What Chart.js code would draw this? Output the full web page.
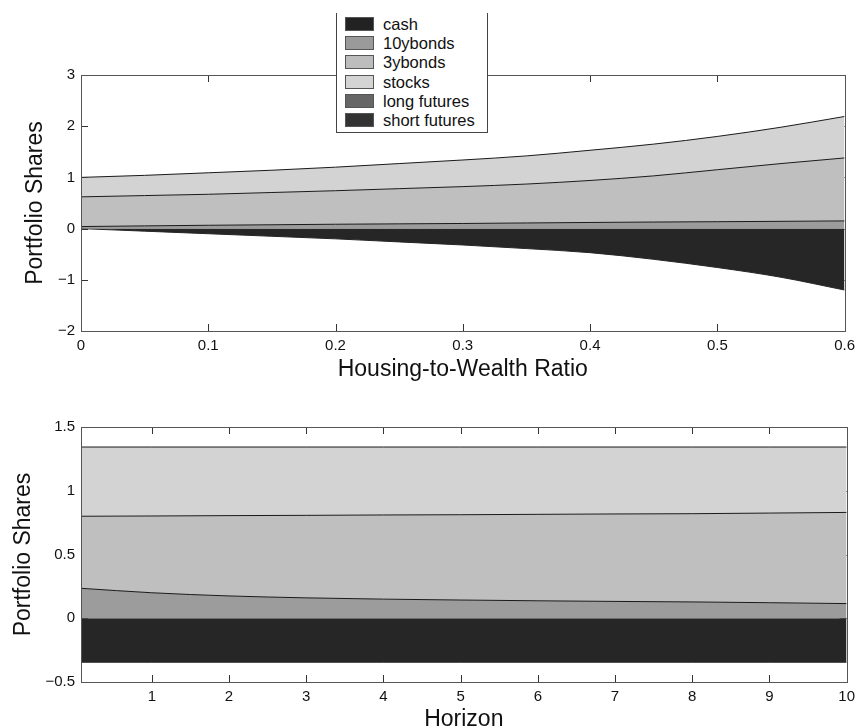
<!DOCTYPE html>
<html>
<head>
<meta charset="utf-8">
<script src="https://cdn.jsdelivr.net/npm/chart.js@4.4.1/dist/chart.umd.min.js"></script>
<style>
  html, body { margin:0; padding:0; background:#fff; }
  body { width:861px; height:728px; position:relative; overflow:hidden; font-family:"Liberation Sans", Arial, sans-serif; }
  #w1 { position:absolute; left:0; top:0; width:861px; height:385px; }
  #w2 { position:absolute; left:0; top:385px; width:861px; height:360px; }
  #legend { position:absolute; left:336px; top:13px; width:152px; height:120px; background:#fff;
            border:1px solid #444; border-top:none; box-sizing:border-box; }
  .row { position:absolute; left:0; height:19px; width:150px; }
  .sw { position:absolute; left:8px; top:2px; width:29px; height:14px; box-sizing:border-box; border:1px solid #555; }
  .lb { position:absolute; left:46px; top:0; font-size:16.5px; line-height:19px; color:#111; white-space:nowrap; }
</style>
</head>
<body>
<div id="w1"><canvas id="c1" width="861" height="385"></canvas></div>
<div id="w2"><canvas id="c2" width="861" height="360"></canvas></div>
<div id="legend"></div>
<script>
// ---------- data ----------
const legendLabels = ["cash", "10ybonds", "3ybonds", "stocks", "long futures", "short futures"];
const legendColors = ["#222222", "#9a9a9a", "#bdbdbd", "#d4d4d4", "#666666", "#333333"];

// Top panel: x = housing-to-wealth ratio
const housingRatio = [0, 0.05, 0.1, 0.15, 0.2, 0.25, 0.3, 0.35, 0.4, 0.45, 0.5, 0.55, 0.6];
const topCash      = [0, -0.05, -0.10, -0.15, -0.20, -0.26, -0.32, -0.39, -0.47, -0.60, -0.76, -0.95, -1.20];
const top10y       = [0.04, 0.053, 0.065, 0.075, 0.085, 0.093, 0.10, 0.11, 0.12, 0.128, 0.135, 0.142, 0.15];
const top3y        = [0.58, 0.592, 0.605, 0.63, 0.655, 0.687, 0.72, 0.76, 0.82, 0.902, 1.015, 1.128, 1.23];
const topStocks    = [0.38, 0.395, 0.42, 0.435, 0.46, 0.49, 0.52, 0.55, 0.59, 0.62, 0.65, 0.71, 0.81];
const topXTicks    = [0, 0.1, 0.2, 0.3, 0.4, 0.5, 0.6];
const topYTicks    = [-2, -1, 0, 1, 2, 3];

// Bottom panel: x = horizon (years)
const horizon      = [0.083, 1, 2, 3, 4, 5, 6, 7, 8, 9, 10];
const botCash      = [-0.345, -0.345, -0.345, -0.345, -0.345, -0.345, -0.345, -0.345, -0.345, -0.345, -0.345];
const bot10y       = [0.235, 0.20, 0.175, 0.16, 0.15, 0.143, 0.137, 0.132, 0.128, 0.122, 0.115];
const bot3y        = [0.565, 0.602, 0.63, 0.647, 0.66, 0.669, 0.678, 0.686, 0.692, 0.703, 0.715];
const botStocks    = [0.543, 0.541, 0.538, 0.536, 0.533, 0.531, 0.528, 0.525, 0.523, 0.518, 0.513];
const botXTicks    = [1, 2, 3, 4, 5, 6, 7, 8, 9, 10];
const botYTicks    = [-0.5, 0, 0.5, 1, 1.5];

// ---------- legend ----------
const lg = document.getElementById('legend');
legendLabels.forEach((t, i) => {
  const r = document.createElement('div');
  r.className = 'row';
  r.style.top = (2 + i * 19.2) + 'px';
  r.innerHTML = '<div class="sw" style="background:' + legendColors[i] + '"></div><div class="lb">' + t + '</div>';
  lg.appendChild(r);
});

// ---------- helpers ----------
const FILL = { cash: "#262626", b10: "#9c9c9c", b3: "#bfbfbf", st: "#d3d3d3" };
const FONT = "'Liberation Sans', Arial, sans-serif";

function buildDatasets(xs, cash, b10, b3, st) {
  const c10 = b10.map(v => v);
  const c3 = b10.map((v, i) => v + b3[i]);
  const cs = c3.map((v, i) => v + st[i]);
  const pts = arr => xs.map((x, i) => ({ x: x, y: arr[i] }));
  const base = { pointRadius: 0, borderWidth: 1, borderColor: '#1a1a1a', cubicInterpolationMode: 'monotone' };
  return [
    Object.assign({}, base, { label: '10ybonds', data: pts(c10), backgroundColor: FILL.b10, fill: 'origin' }),
    Object.assign({}, base, { label: '3ybonds', data: pts(c3), backgroundColor: FILL.b3, fill: 0 }),
    Object.assign({}, base, { label: 'stocks', data: pts(cs), backgroundColor: FILL.st, fill: 1 }),
    Object.assign({}, base, { label: 'cash', data: pts(cash), backgroundColor: FILL.cash, borderColor: '#262626', fill: 'origin' })
  ];
}

const framePlugin = {
  id: 'frame',
  beforeDraw(chart) {
    const { ctx, chartArea: a, scales: { x, y } } = chart;
    ctx.save();
    ctx.strokeStyle = '#333';
    ctx.lineWidth = 1;
    ctx.beginPath();
    x.ticks.forEach(t => {
      const px = Math.round(x.getPixelForValue(t.value)) + 0.5;
      ctx.moveTo(px, a.bottom); ctx.lineTo(px, a.bottom - 7);
      ctx.moveTo(px, a.top); ctx.lineTo(px, a.top + 7);
    });
    y.ticks.forEach(t => {
      const py = Math.round(y.getPixelForValue(t.value)) + 0.5;
      ctx.moveTo(a.left, py); ctx.lineTo(a.left + 7, py);
      ctx.moveTo(a.right, py); ctx.lineTo(a.right - 7, py);
    });
    ctx.stroke();
    ctx.restore();
  },
  afterDatasetsDraw(chart) {
    const { ctx, chartArea: a } = chart;
    ctx.save();
    ctx.strokeStyle = '#555';
    ctx.lineWidth = 1;
    ctx.strokeRect(Math.round(a.left) + 0.5, Math.round(a.top) + 0.5,
                   Math.round(a.right - a.left), Math.round(a.bottom - a.top));
    ctx.restore();
  }
};

function fmt(v) {
  let s = String(Math.round(v * 10) / 10);
  return s.replace('-', '\u2212');
}

function makeChart(id, cfg) {
  return new Chart(document.getElementById(id), {
    type: 'line',
    data: { datasets: cfg.datasets },
    plugins: [framePlugin],
    options: {
      responsive: false,
      animation: false,
      devicePixelRatio: 1,
      layout: { padding: { left: 0, right: 13, top: cfg.padTop, bottom: 0 } },
      plugins: { legend: { display: false }, tooltip: { enabled: false } },
      scales: {
        x: {
          type: 'linear', min: cfg.xmin, max: cfg.xmax,
          grid: { display: false, drawTicks: false },
          border: { display: false },
          afterBuildTicks: s => { s.ticks = cfg.xticks.map(v => ({ value: v })); },
          afterFit: s => { s.height = cfg.xHeight; },
          ticks: { padding: 6, color: '#111', font: { family: FONT, size: 15 }, maxRotation: 0, autoSkip: false, callback: v => fmt(v) },
          title: { display: true, text: cfg.xTitle, color: '#111', font: { family: FONT, size: 23 }, padding: { top: 0, bottom: cfg.xTitlePad } }
        },
        y: {
          type: 'linear', min: cfg.ymin, max: cfg.ymax,
          grid: { display: false, drawTicks: false },
          border: { display: false },
          afterBuildTicks: s => { s.ticks = cfg.yticks.map(v => ({ value: v })); },
          afterFit: s => { s.width = 81; },
          ticks: { padding: 6, color: '#111', font: { family: FONT, size: 15 }, autoSkip: false, callback: v => fmt(v) },
          title: { display: true, text: 'Portfolio Shares', color: '#111', font: { family: FONT, size: 23 }, padding: { top: cfg.yTitlePad, bottom: 0 } }
        }
      }
    }
  });
}

makeChart('c1', {
  datasets: buildDatasets(housingRatio, topCash, top10y, top3y, topStocks),
  padTop: 75, xHeight: 54, xmin: 0, xmax: 0.6, ymin: -2, ymax: 3,
  xticks: topXTicks, yticks: topYTicks,
  xTitle: 'Housing-to-Wealth Ratio', xTitlePad: 1.7, yTitlePad: 21.5
});

makeChart('c2', {
  datasets: buildDatasets(horizon, botCash, bot10y, bot3y, botStocks),
  padTop: 42, xHeight: 63, xmin: 0.083, xmax: 10, ymin: -0.5, ymax: 1.5,
  xticks: botXTicks, yticks: botYTicks,
  xTitle: 'Horizon', xTitlePad: 11.2, yTitlePad: 9.9
});
</script>
</body>
</html>
